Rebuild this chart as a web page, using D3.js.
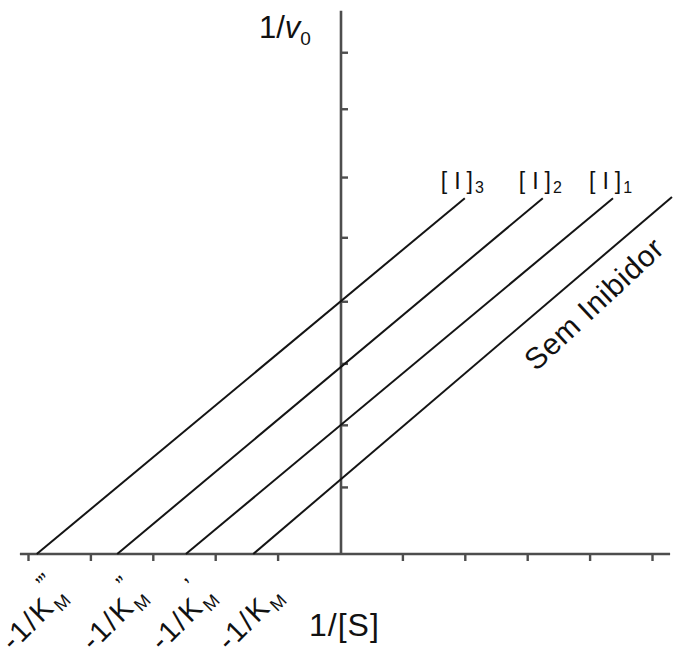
<!DOCTYPE html>
<html>
<head>
<meta charset="utf-8">
<script src="https://cdn.jsdelivr.net/npm/d3@7/dist/d3.min.js"></script>
<style>
  html, body { margin: 0; padding: 0; background: #fff; }
  svg { display: block; }
  text { font-family: "Liberation Sans", Arial, sans-serif; fill: #111; }
</style>
</head>
<body>
<svg id="chart" width="675" height="658"></svg>
<script>
// ---- data ----
const seriesNames = ["[I]3", "[I]2", "[I]1", "Sem Inibidor"];
const labelSubs   = ["3", "2", "1", null];
const xIntercepts = [-4.86, -3.57, -2.47, -1.39];   // where each line meets the 1/[S] axis
const xEnds       = [2.0, 3.25, 4.375, 5.32];        // 1/[S] at the top end of each line
const yEnds       = [5.73, 5.73, 5.73, 5.75];        // 1/v0 at the top end of each line
const xTicks = [-5, -4, -3, -2, -1, 1, 2, 3, 4, 5];
const yTicks = [1.08, 2.08, 3.07, 4.07, 5.1, 6.07, 7.17, 8.08];
const kmPrimes = ["\u2019\u2019\u2019", "\u2019\u2019", "\u2019", ""];

// ---- layout ----
const svg = d3.select("#chart");
const x = d3.scaleLinear().domain([-5, 5]).range([28, 652]);
const y = d3.scaleLinear().domain([0, 8]).range([554, 554 - 8 * 62.1]);
const xMin = -5.13, xMax = 5.29, yMax = 8.75;

const axisColor = "#4d4d4d";

// x axis (horizontal line at 1/v0 = 0) with ticks below
const xAxis = d3.axisBottom(x).tickValues(xTicks).tickSize(7).tickFormat("");
const gx = svg.append("g").attr("transform", `translate(0,${y(0)})`).call(xAxis);
gx.select(".domain").remove();
gx.selectAll(".tick line").attr("stroke", axisColor).attr("stroke-width", 2.4);
svg.append("line")
  .attr("x1", x(xMin)).attr("x2", x(xMax))
  .attr("y1", y(0)).attr("y2", y(0))
  .attr("stroke", axisColor).attr("stroke-width", 2.6);

// y axis (vertical line at 1/[S] = 0) with ticks to the right
const yAxis = d3.axisRight(y).tickValues(yTicks).tickSize(7).tickFormat("");
const gy = svg.append("g").attr("transform", `translate(${x(0) + 1},0)`).call(yAxis);
gy.select(".domain").remove();
gy.selectAll(".tick line").attr("stroke", axisColor).attr("stroke-width", 2.4);
svg.append("line")
  .attr("x1", x(0) + 1).attr("x2", x(0) + 1)
  .attr("y1", y(0) + 1).attr("y2", y(yMax))
  .attr("stroke", axisColor).attr("stroke-width", 2.6);

// lines
const lineGen = d3.line().x(d => x(d[0])).y(d => y(d[1]));
seriesNames.forEach((name, i) => {
  svg.append("path")
    .datum([[xIntercepts[i], 0], [xEnds[i], yEnds[i]]])
    .attr("d", lineGen)
    .attr("fill", "none")
    .attr("stroke", "#141414")
    .attr("stroke-width", 2);
});

// [I] labels above line ends
seriesNames.forEach((name, i) => {
  if (!labelSubs[i]) return;
  const t = svg.append("text")
    .attr("x", x(xEnds[i]) - 24)
    .attr("y", 189)
    .attr("font-size", 23);
  t.append("tspan").text("[");
  t.append("tspan").attr("dx", 7).text("I");
  t.append("tspan").attr("dx", 6).text("]");
  t.append("tspan").attr("font-size", 16).attr("dx", 2).attr("dy", 4).text(labelSubs[i]);
});

// Sem Inibidor rotated label
svg.append("g")
  .attr("transform", "translate(536,372) rotate(-43)")
  .append("text")
  .attr("font-size", 30)
  .attr("letter-spacing", 0.8)
  .text(seriesNames[3]);

// -1/KM tick labels at the x intercepts (each piece rotated about the label centre)
xIntercepts.forEach((v, i) => {
  const cx = Math.round(x(v) + 8), cy = 620;
  const rot = "rotate(-45 " + cx + " " + cy + ")";
  svg.append("text")
    .attr("x", cx + 16).attr("y", cy)
    .attr("transform", rot)
    .attr("text-anchor", "end")
    .attr("font-size", 29)
    .attr("letter-spacing", 2)
    .text("-1/K");
  svg.append("text")
    .attr("x", cx + 17).attr("y", cy + 6)
    .attr("transform", rot)
    .attr("font-size", 18)
    .text("M");
  if (kmPrimes[i]) {
    svg.append("text")
      .attr("x", cx + 20).attr("y", cy - 19)
      .attr("transform", rot)
      .attr("font-size", 24)
      .attr("letter-spacing", -1)
      .text(kmPrimes[i]);
  }
});

// axis titles
const yt = svg.append("text").attr("x", 259).attr("y", 38).attr("font-size", 31);
yt.append("tspan").text("1/");
yt.append("tspan").attr("font-style", "italic").text("v");
yt.append("tspan").attr("font-size", 19).attr("dy", 7).text("0");

svg.append("text").attr("x", 309).attr("y", 636).attr("font-size", 32)
  .attr("letter-spacing", 1).text("1/[S]");
</script>
</body>
</html>
